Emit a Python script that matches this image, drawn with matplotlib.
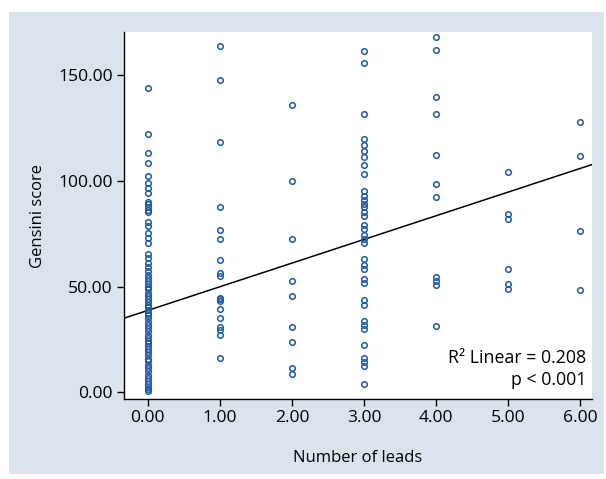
import matplotlib
matplotlib.use("Agg")
import matplotlib.pyplot as plt
from matplotlib.patches import Rectangle

plt.rcParams["font.family"] = ["Open Sans", "DejaVu Sans"]

# Gensini score per number of leads
leads = [0, 1, 2, 3, 4, 5, 6]
scores_0 = [143.7, 122.0, 113.0, 108.3, 102.4, 98.8, 96.5, 94.1, 90.1, 88.9, 87.6, 86.3, 85.1,
            80.5, 78.5, 75.5, 73.0, 70.5, 65.2, 63.4, 61.3, 59.4, 57.5,
            55.4, 54.0, 52.6, 51.3, 50.0, 48.8, 47.0, 45.5, 44.2, 42.8, 41.5, 40.2, 38.9, 37.6,
            36.3, 35.0, 33.3, 31.8, 30.5, 28.8, 27.0, 25.7, 24.4, 23.1, 21.8, 20.5, 19.2, 17.6,
            15.9, 14.6, 12.9, 11.3, 10.0, 8.2, 6.5, 5.2, 3.9, 2.6, 1.3, 0.5]
scores_1 = [163.7, 147.8, 118.2, 87.4, 76.7, 72.4, 62.6, 56.5, 55.0, 44.8, 44.0, 43.0, 39.5,
            34.9, 30.7, 29.6, 26.9, 16.1]
scores_2 = [135.7, 100.0, 72.4, 52.5, 45.6, 30.9, 23.8, 11.7, 8.5]
scores_3 = [161.5, 155.5, 131.6, 120.0, 116.9, 114.0, 111.2, 107.6, 103.0, 95.0, 93.0, 91.0,
            89.0, 87.5, 85.3, 83.5, 79.0, 77.0, 74.5, 72.5, 70.8, 62.8, 60.3, 58.3, 53.7, 51.8,
            43.6, 41.3, 33.7, 31.8, 29.9, 22.2, 16.0, 14.5, 12.4, 3.9]
scores_4 = [167.9, 161.9, 139.8, 131.6, 112.2, 98.3, 92.4, 54.6, 52.5, 50.5, 31.2]
scores_5 = [104.0, 84.1, 81.9, 58.5, 51.0, 48.6]
scores_6 = [127.8, 111.8, 76.2, 48.3]
all_scores = [scores_0, scores_1, scores_2, scores_3, scores_4, scores_5, scores_6]

# fitted line as drawn
fit_intercept = 38.7
fit_slope = 11.2
r2_text = "R\u00b2 Linear = 0.208"
p_text = "p < 0.001"

fig = plt.figure(figsize=(6.06, 4.79), dpi=100)
fig.patches.append(Rectangle((9/606, 1-474/479), 595/606, 462/479, transform=fig.transFigure,
                             fc="#dbe4ee", ec="none", zorder=-5))
ax = fig.add_axes([124/606, 1-399/479, 468/606, 367/479])
ax.set_facecolor("white")

for n, s in zip(leads, all_scores):
    ax.plot([n]*len(s), s, "o", ms=4.0, mfc="none", mec="#1f5aa6", mew=1.1, zorder=3)

xl = (-0.33, 6.16)
ax.plot(xl, [fit_intercept + fit_slope*x for x in xl], color="black", lw=1.1, zorder=2)
ax.set_xlim(*xl); ax.set_ylim(-3.2, 170.4)

ax.set_xticks(leads); ax.set_xticklabels([f"{v:.2f}" for v in leads])
ax.set_yticks([0, 50, 100, 150]); ax.set_yticklabels([f"{v:.2f}" for v in [0, 50, 100, 150]])
ax.tick_params(direction="out", length=5, width=1, labelsize=12.6, colors="black", pad=3)
for sp in ("top", "right"): ax.spines[sp].set_visible(False)
for sp in ("left", "bottom"): ax.spines[sp].set_linewidth(1.0)

ax.set_xlabel("Number of leads", fontsize=12, labelpad=17)
ax.set_ylabel("Gensini score", fontsize=12, labelpad=9)

ax.text(0.988, 0.113, r2_text, transform=ax.transAxes, ha="right", va="center", fontsize=12.8)
ax.text(0.988, 0.052, p_text, transform=ax.transAxes, ha="right", va="center", fontsize=12.8)

fig.savefig("out.png", dpi=100)
